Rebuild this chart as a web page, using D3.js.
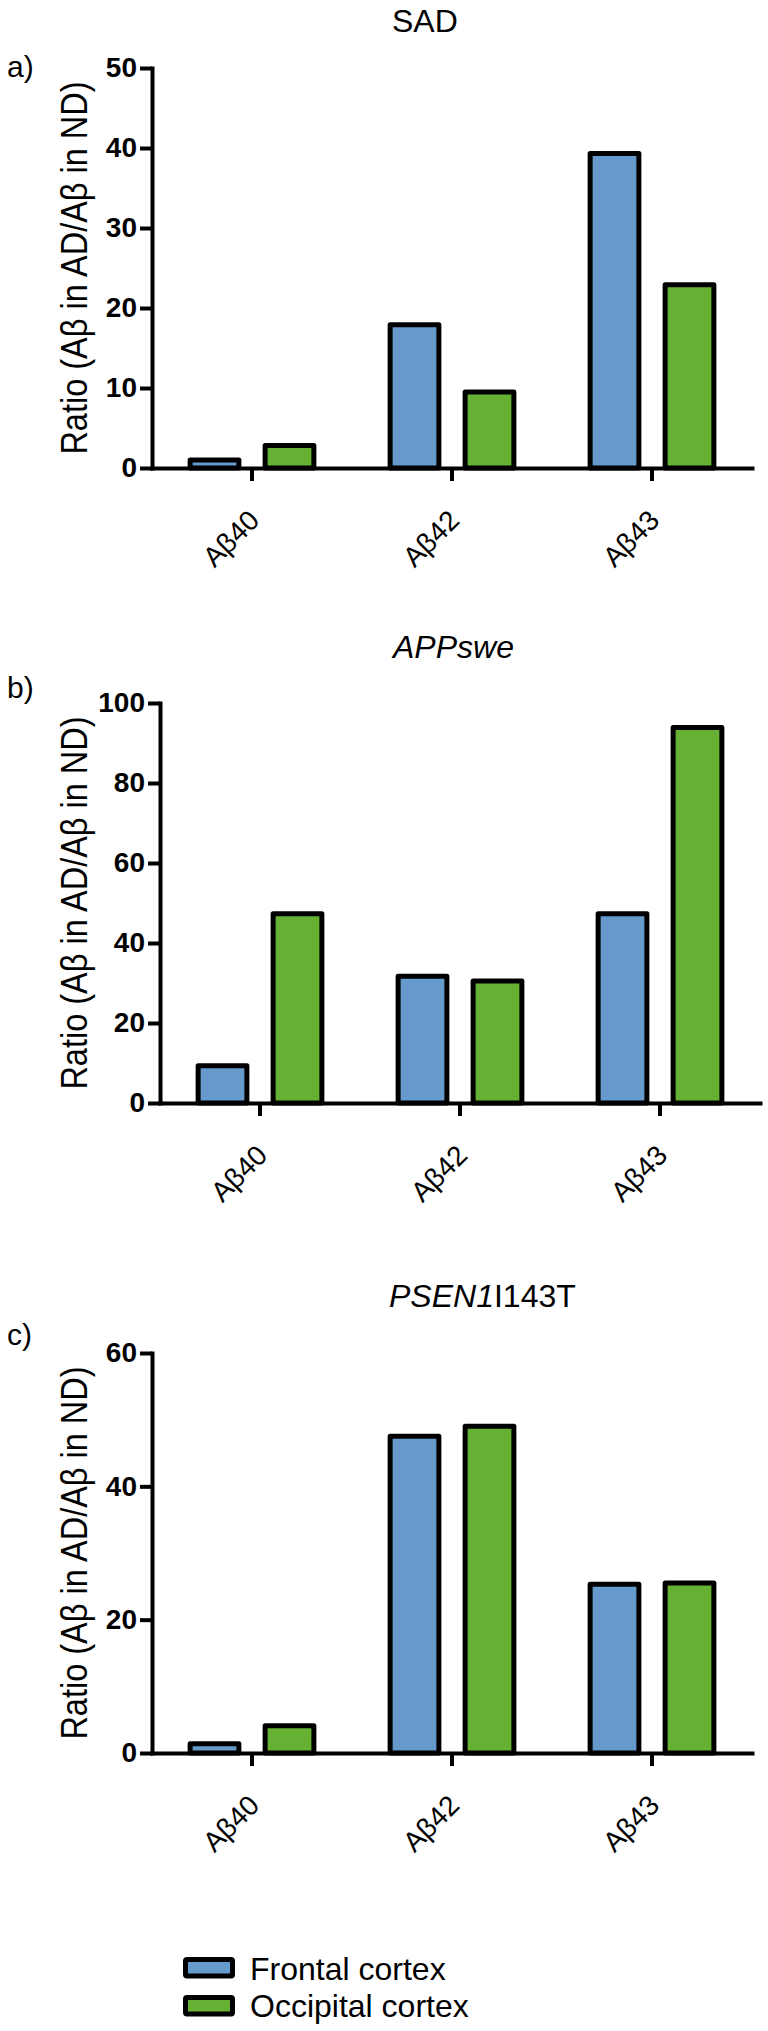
<!DOCTYPE html>
<html>
<head>
<meta charset="utf-8">
<script src="https://cdn.jsdelivr.net/npm/d3@7"></script>
<style>
  html, body { margin: 0; padding: 0; background: #fff; }
  svg { display: block; }
  text { font-family: "Liberation Sans", Arial, sans-serif; fill: #000; }
</style>
</head>
<body>
<div id="chart"></div>
<script>
// ---------- data ----------
const categories = ["Aβ40", "Aβ42", "Aβ43"];
const seriesNames = ["Frontal cortex", "Occipital cortex"];
const seriesColors = ["#6699cc", "#66b133"];

const sadFrontal = [1.0, 17.9, 39.3];
const sadOccipital = [2.8, 9.5, 22.9];
const sadTicks = [0, 10, 20, 30, 40, 50];

const appFrontal = [9.3, 31.7, 47.3];
const appOccipital = [47.3, 30.5, 93.9];
const appTicks = [0, 20, 40, 60, 80, 100];

const psenFrontal = [1.4, 47.5, 25.3];
const psenOccipital = [4.1, 49.0, 25.5];
const psenTicks = [0, 20, 40, 60];

const yTitle = "Ratio (Aβ in AD/Aβ in ND)";

// ---------- layout ----------
const W = 768, H = 2031;
const svg = d3.select("#chart").append("svg")
  .attr("width", W).attr("height", H)
  .attr("viewBox", `0 0 ${W} ${H}`);
svg.append("rect").attr("width", W).attr("height", H).attr("fill", "#fff");

const panels = [
  { tag: "a)", tagY: 77, title: [["SAD", "normal"]], titleX: 392, titleY: 32,
    x0: 152, x1: 752, yBottom: 468, yTop: 68, max: 50, ticks: sadTicks,
    values: [sadFrontal, sadOccipital] },
  { tag: "b)", tagY: 698, title: [["APPswe", "italic"]], titleX: 393, titleY: 658,
    x0: 160, x1: 760, yBottom: 1103, yTop: 703, max: 100, ticks: appTicks,
    values: [appFrontal, appOccipital] },
  { tag: "c)", tagY: 1345, title: [["PSEN1", "italic"], ["I143T", "normal"]], titleX: 389, titleY: 1307,
    x0: 152, x1: 752, yBottom: 1753, yTop: 1353, max: 60, ticks: psenTicks,
    values: [psenFrontal, psenOccipital] }
];

panels.forEach(p => {
  const g = svg.append("g");

  const x = d3.scaleBand().domain(categories).range([p.x0, p.x1]).padding(0);
  const xs = d3.scaleBand().domain(seriesNames).range([-75, 75])
    .paddingInner(0.35).paddingOuter(0.175);
  const y = d3.scaleLinear().domain([0, p.max]).range([p.yBottom, p.yTop]);

  // bars
  seriesNames.forEach((s, si) => {
    g.append("g").selectAll("rect")
      .data(categories.map((c, ci) => ({ c, v: p.values[si][ci] })))
      .join("rect")
      .attr("x", d => x(d.c) + x.bandwidth() / 2 + xs(s))
      .attr("width", xs.bandwidth())
      .attr("y", d => y(d.v))
      .attr("height", d => y(0) - y(d.v))
      .attr("fill", seriesColors[si])
      .attr("stroke", "#000")
      .attr("stroke-width", 5)
      .attr("stroke-linejoin", "round");
  });

  // y axis
  const ya = g.append("g").attr("transform", `translate(${p.x0},0)`)
    .call(d3.axisLeft(y).tickValues(p.ticks).tickSize(12).tickSizeOuter(0).tickPadding(3));
  ya.select(".domain").attr("stroke-width", 4).attr("stroke-linecap", "square");
  ya.selectAll(".tick line").attr("stroke-width", 4);
  ya.selectAll(".tick text")
    .style("font-family", '"Liberation Sans", Arial, sans-serif')
    .style("font-size", "28px").style("font-weight", "bold");

  // x axis
  const xa = g.append("g").attr("transform", `translate(0,${p.yBottom})`)
    .call(d3.axisBottom(x).tickSize(13).tickSizeOuter(0));
  xa.select(".domain").attr("stroke-width", 4).attr("stroke-linecap", "square");
  xa.selectAll(".tick line").attr("stroke-width", 4);
  xa.selectAll(".tick text")
    .attr("x", 0).attr("y", 0).attr("dy", 0)
    .attr("transform", "translate(9,54) rotate(-45)")
    .style("text-anchor", "end")
    .style("font-family", '"Liberation Sans", Arial, sans-serif')
    .style("font-size", "28px");

  // y title
  g.append("text")
    .attr("transform", `translate(87,${(p.yTop + p.yBottom) / 2}) scale(1.16,1) rotate(-90)`)
    .attr("text-anchor", "middle")
    .style("font-size", "32.5px")
    .text(yTitle);

  // panel title
  const t = g.append("text").attr("x", p.titleX).attr("y", p.titleY)
    .style("font-size", "32px");
  p.title.forEach(([txt, st]) => t.append("tspan").style("font-style", st).text(txt));

  // panel tag
  g.append("text").attr("x", 7).attr("y", p.tagY)
    .style("font-size", "30px").text(p.tag);
});

// legend
const leg = svg.append("g");
seriesNames.forEach((s, i) => {
  const yy = 1959.5 + i * 38;
  leg.append("rect").attr("x", 185.5).attr("y", yy).attr("width", 47).attr("height", 16.5)
    .attr("fill", seriesColors[i]).attr("stroke", "#000").attr("stroke-width", 5)
    .attr("rx", 1.5);
  leg.append("text").attr("x", 250).attr("y", 1980 + i * 37)
    .style("font-size", "32px").text(s);
});
</script>
</body>
</html>
